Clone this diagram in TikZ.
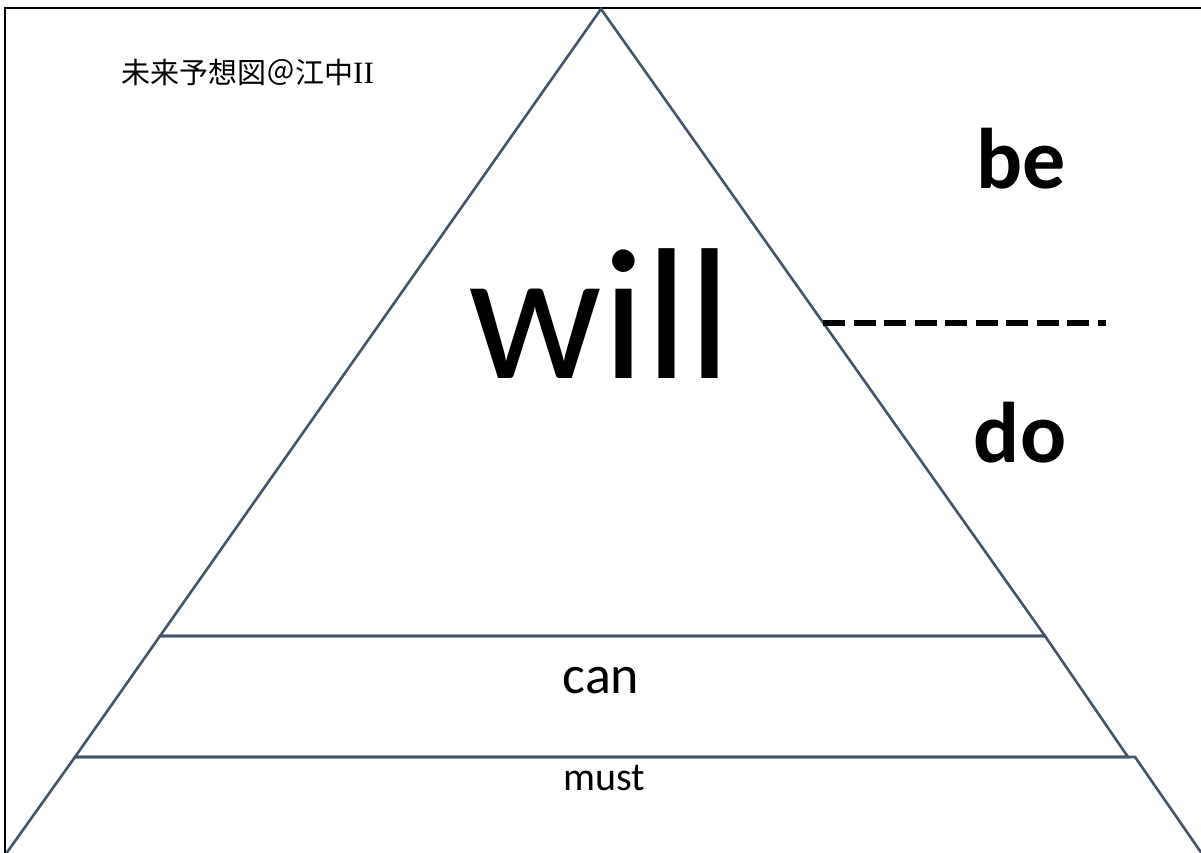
\documentclass[tikz,border=0pt]{standalone}
\usepackage{fontspec}
\setmainfont{Carlito}
\newfontfamily\jpfont{Noto Sans CJK JP}
\newfontfamily\serfont{Liberation Serif}
\definecolor{slate}{HTML}{44546A}
\begin{document}
\begin{tikzpicture}[x=1pt,y=-1pt,
  tier/.style={draw=slate,line width=2.6pt,line join=miter},
  frameline/.style={draw=black,line width=2.4pt},
  lbl/.style={inner sep=0pt,anchor=base},
  dashline/.style={draw=black,line width=5.5pt,dash pattern=on 22pt off 8.5pt}]
\useasboundingbox (0,0) rectangle (1201,852);
\begin{scope}
\clip (0,0) rectangle (1201,852);
\draw[frameline] (5,880) -- (5,8) -- (1230,8);
% top triangle
\draw[tier] (601,9) -- (1045,636) -- (160,636) -- cycle;
% middle band
\draw[tier] (160,636) -- (1045,636) -- (1128,757) -- (75,757) -- cycle;
% bottom band
\draw[tier] (75,757) -- (1135,757) -- (1234,900) -- (-27,900) -- cycle;
\end{scope}
\node[lbl,font=\fontsize{187}{190}\selectfont] (will) at (600,378) {will};
\node[lbl,font=\fontsize{86}{90}\selectfont\bfseries] (be) at (1021,188) {be};
\node[lbl,font=\fontsize{86}{90}\selectfont\bfseries] (do) at (1020,462) {do};
\node[lbl,font=\fontsize{54}{60}\selectfont] (can) at (601,693) {can};
\node[lbl,font=\fontsize{40}{44}\selectfont] (must) at (604,790) {must};
\node[inner sep=0pt,anchor=base west,font=\fontsize{29}{32}\selectfont] (title) at (121,83) {{\jpfont 未来予想図＠江中}{\serfont\fontsize{31}{32}\selectfont II}};
\coordinate (dl) at (823,323);
\coordinate (dr) at (1106,323);
\draw[dashline] (dl) -- (dr);
\end{tikzpicture}
\end{document}
